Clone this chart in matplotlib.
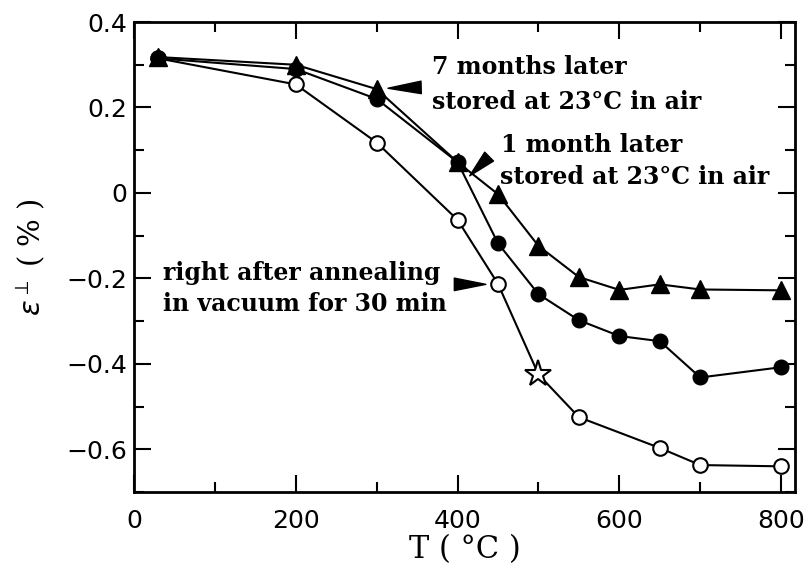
import matplotlib
matplotlib.use("Agg")
import matplotlib.pyplot as plt
from matplotlib.ticker import MultipleLocator, FuncFormatter

# Temperature points (°C)
temps = [30, 200, 300, 400, 450, 500, 550, 600, 650, 700, 800]

# Strain after annealing in vacuum (open circles, star at 500 °C)
fresh_T = [30, 200, 300, 400, 450, 500, 550, 650, 700, 800]
fresh = [0.315, 0.254, 0.118, -0.063, -0.213, -0.425, -0.525, -0.597, -0.637, -0.64]
star_T = 500

# One month later (filled circles)
month1 = [0.315, 0.29, 0.22, 0.072, -0.118, -0.237, -0.298, -0.335, -0.347, -0.432, -0.408]

# Seven months later (filled triangles)
month7 = [0.318, 0.3, 0.243, 0.072, -0.003, -0.124, -0.197, -0.227, -0.214, -0.226, -0.228]

x_ticks = [0, 200, 400, 600, 800]
y_ticks = [-0.6, -0.4, -0.2, 0, 0.2, 0.4]

fig = plt.figure(figsize=(8.08, 5.71), dpi=100)
ax = fig.add_axes([0.1658, 0.1384, 0.818, 0.823])

lw = 1.5
star_idx = fresh_T.index(star_T)
ax.plot(fresh_T, fresh, color="k", lw=lw, marker="o", ms=10.5, mfc="white",
        mec="k", mew=1.5, markevery=[i for i in range(len(fresh_T)) if i != star_idx],
        zorder=2)
ax.plot([fresh_T[star_idx]], [fresh[star_idx]], marker="*", ms=20, mfc="white",
        mec="k", mew=1.5, ls="none", zorder=3)
ax.plot(temps, month1, color="k", lw=lw, marker="o", ms=10.5, mfc="k", mec="k", zorder=3)
ax.plot(temps, month7, color="k", lw=lw, marker="^", ms=13, mfc="k", mec="k", zorder=4)

ax.set_xlim(0, 817)
ax.set_ylim(-0.7, 0.4)
ax.set_xticks(x_ticks)
ax.set_yticks(y_ticks)
ax.xaxis.set_minor_locator(MultipleLocator(100))
ax.yaxis.set_minor_locator(MultipleLocator(0.1))


def yfmt(v, pos):
    if abs(v) < 1e-9:
        return "0"
    return f"{v:.1f}".replace("-", "\u2212")


ax.yaxis.set_major_formatter(FuncFormatter(yfmt))
ax.tick_params(which="both", direction="in", top=True, right=True, width=1.5)
ax.tick_params(which="major", length=12)
ax.tick_params(which="minor", length=7)
ax.tick_params(axis="x", which="major", pad=12, labelsize=18)
ax.tick_params(axis="y", which="major", pad=5, labelsize=18)
for s in ax.spines.values():
    s.set_linewidth(2)

serif = "DejaVu Serif"
ax.set_xlabel("T ( \u00b0C )", family=serif, fontsize=22, labelpad=1)
ax.set_ylabel("$\\varepsilon^{\\perp}$ ( % )", family=serif, fontsize=21, labelpad=14)

tfs = 17
tkw = dict(family=serif, fontsize=tfs, fontweight="bold", va="center")
ax.text(368, 0.294, "7 months later", **tkw)
ax.text(368, 0.212, "stored at 23\u00b0C in air", **tkw)
ax.text(454, 0.113, "1 month later", **tkw)
ax.text(452, 0.038, "stored at 23\u00b0C in air", **tkw)
ax.text(36, -0.188, "right after annealing", **tkw)
ax.text(36, -0.261, "in vacuum for 30 min", **tkw)

wedge = dict(arrowstyle="wedge,tail_width=0.9", fc="k", ec="k",
             shrinkA=0, shrinkB=0, mutation_scale=10)
ax.annotate("", xy=(314, 0.245), xytext=(355, 0.247), arrowprops=wedge)
ax.annotate("", xy=(415, 0.04), xytext=(439, 0.085), arrowprops=wedge)
ax.annotate("", xy=(435, -0.214), xytext=(396, -0.214), arrowprops=wedge)

fig.savefig("out.png", dpi=100)
